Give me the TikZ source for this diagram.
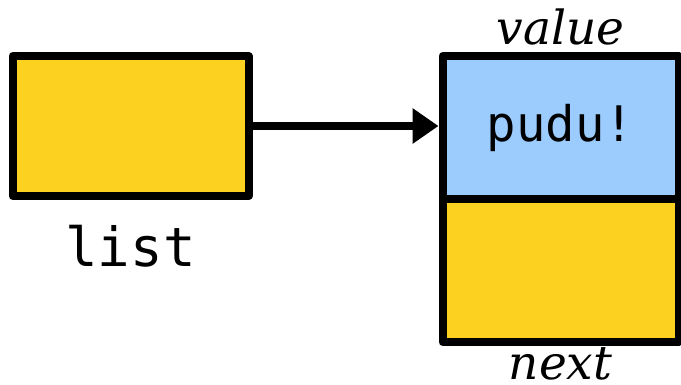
\documentclass[tikz,border=0pt]{standalone}
\usepackage{fontspec}
\setmainfont{DejaVu Serif}
\setmonofont{DejaVu Sans Mono}
\usetikzlibrary{positioning,arrows.meta}
\definecolor{cellyellow}{HTML}{FDD11F}
\definecolor{cellblue}{HTML}{9CCBFE}
\tikzset{
  cell/.style = {rectangle, draw=black, line width=4pt, line join=round, inner sep=0pt, minimum width=118pt, minimum height=70pt, fill=cellyellow},
  valuecell/.style = {cell, fill=cellblue, minimum height=71.5pt, font=\ttfamily\fontsize{24.5}{24.5}\selectfont},
  fieldname/.style = {inner sep=0pt, font=\itshape\fontsize{23.5}{23.5}\selectfont},
  varname/.style = {inner sep=0pt, font=\ttfamily\fontsize{27}{27}\selectfont},
  pointer/.style = {line width=4pt, -{Triangle[length=13pt, width=17pt]}}
}

\begin{document}
\begin{tikzpicture}[x=0.5pt, y=-0.5pt]
  \useasboundingbox (0,0) rectangle (681,385);
  \node [cell] (list) at (130.5,126) {};
  \node [varname, below=12.5pt of list] (listname) {list};
  \node [valuecell] (value) at (560.5,127.5) {pudu!};
  \node [cell, minimum height=71.5pt, below=-4pt of value] (next) {};
  \node [fieldname, above=3pt of value] (valuename) {value};
  \node [fieldname, below=0.5pt of next] (nextname) {next};
  \draw [pointer] (list.east) -- (list.east -| value.west);
\end{tikzpicture}
\end{document}
